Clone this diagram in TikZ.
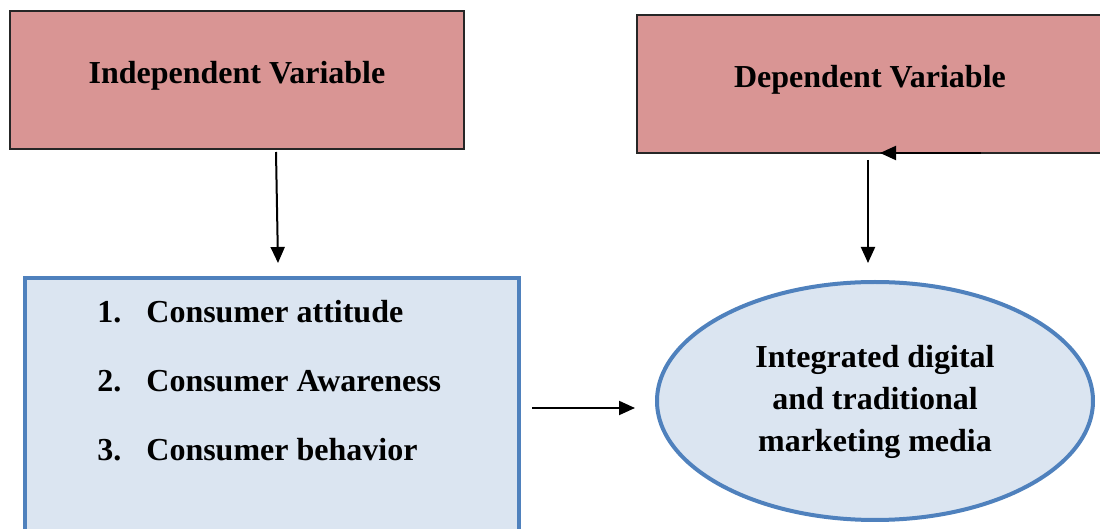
\documentclass[tikz,border=0pt]{standalone}
\usepackage{fontspec}
\setmainfont{Liberation Serif}
\usetikzlibrary{arrows.meta,shapes.geometric}
\definecolor{varred}{HTML}{D99594}
\definecolor{lightblue}{HTML}{DBE5F1}
\definecolor{edgeblue}{HTML}{4F81BD}
\tikzset{
  varbox/.style={draw=black!85,line width=0.6pt,fill=varred,minimum width=#1,minimum height=69pt,inner sep=0pt},
  arr/.style={-{Triangle[length=8pt,width=7pt]},line width=1pt},
  lbl/.style={font=\fontsize{16}{19}\selectfont\bfseries}
}
\begin{document}
\begin{tikzpicture}[x=0.5pt,y=-0.5pt]
    \clip (0,0) rectangle (1100,529);
    \node[varbox=227pt] (indep) at (237,80) {};
    \node[lbl] (indep_txt) at (237,76) {Independent Variable};
    \node[varbox=245pt] (dep) at (882,84) {};
    \node[lbl] (dep_txt) at (870,80) {Dependent Variable};

    \node[draw=edgeblue,line width=2pt,fill=lightblue,minimum width=247pt,minimum height=141pt,inner sep=0pt] (factors) at (272,419) {};
    \node[lbl,anchor=west,inner sep=0pt] (num_1) at (97,312) {1.};
    \node[lbl,anchor=west,inner sep=0pt] (item_1) at (146,312) {Consumer attitude};
    \node[lbl,anchor=west,inner sep=0pt] (num_2) at (97,381) {2.};
    \node[lbl,anchor=west,inner sep=0pt] (item_2) at (146,381) {Consumer Awareness};
    \node[lbl,anchor=west,inner sep=0pt] (num_3) at (97,450) {3.};
    \node[lbl,anchor=west,inner sep=0pt] (item_3) at (146,450) {Consumer behavior};

    \node[draw=edgeblue,line width=2pt,fill=lightblue,ellipse,minimum width=218pt,minimum height=119pt,inner sep=0pt] (media) at (875,401) {};
    \node[lbl,align=center] (media_txt) at (875,402) {Integrated digital\\[2pt]and traditional\\[2pt]marketing media};

    \coordinate (a_top) at (276,152);
    \coordinate (a_bot) at (278,263);
    \coordinate (b_top) at (868,160);
    \coordinate (b_bot) at (868,263);
    \coordinate (c_start) at (981,153);
    \coordinate (c_end) at (880,153);
    \coordinate (d_start) at (532,408);
    \coordinate (d_end) at (635,408);

    \draw[arr] (a_top) -- (a_bot);
    \draw[arr] (b_top) -- (b_bot);
    \draw[arr] (c_start) -- (c_end);
    \draw[arr] (d_start) -- (d_end);
\end{tikzpicture}
\end{document}
